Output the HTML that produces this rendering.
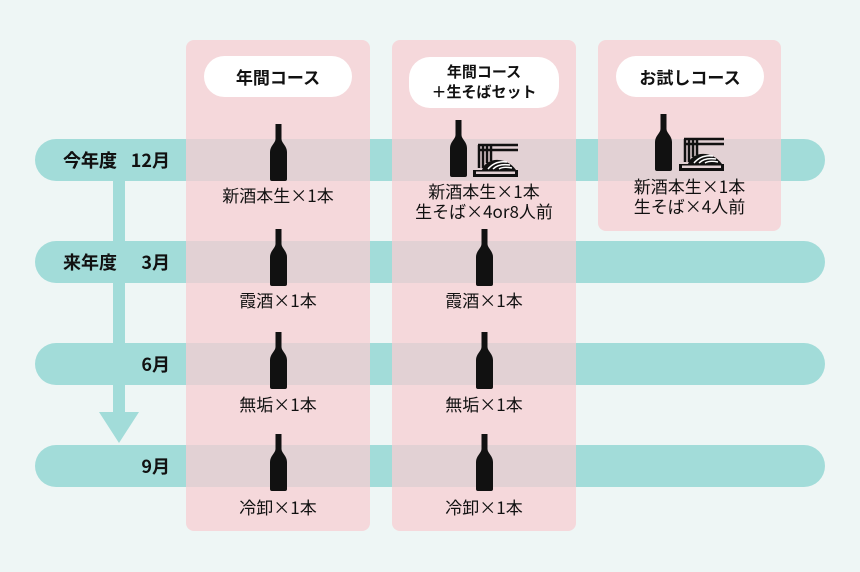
<!DOCTYPE html>
<html><head><meta charset="utf-8"><style>
body{margin:0;width:860px;height:572px;background:#eef6f5;position:relative;overflow:hidden;font-family:"Noto Sans CJK JP","Liberation Sans",sans-serif;color:#111}
.band{position:absolute;left:35px;width:790px;height:42px;border-radius:21px;background:#a2dcd9}
.bl{position:absolute;font-size:18px;font-weight:bold;line-height:42px;white-space:pre}
.panel{position:absolute;background:rgba(247,206,210,0.75);border-radius:8px}
.pill{position:absolute;background:#fff;border-radius:21px;text-align:center;font-weight:bold;font-size:17px}
.t{position:absolute;width:184px;text-align:center;font-size:17px;line-height:20px}
svg.i{position:absolute}
</style></head><body>
<svg width="0" height="0" style="position:absolute"><defs>
<symbol id="b" viewBox="0 0 17 57"><path d="M5.5 0H11.5V15C11.5 19 17 22 17 28V55Q17 57 15 57H2Q0 57 0 55V28C0 22 5.5 19 5.5 15Z" fill="#111"/></symbol>
<symbol id="n" viewBox="0 0 47 34"><g fill="none" stroke="#111" stroke-width="2.5"><path d="M6 2H46M6 7H46"/><path d="M7 2V25M11 2V25M15 2V20M19 2V18"/></g><path d="M10 27C14 14 34 13 44 27Z" fill="#111"/><g stroke="#fff" stroke-width="1.5" fill="none"><path d="M16 26C21 20 28 18 35 19M21 26C25 22 31 21 38 22M27 26C30 24 35 24 40 25"/></g><path d="M1 27H46V34H1Z M4 28.5V31H43V28.5Z" fill="#111" fill-rule="evenodd"/></symbol>
</defs></svg>
<div class="band" style="top:139px"></div>
<div class="band" style="top:241px"></div>
<div class="band" style="top:343px"></div>
<div class="band" style="top:445px"></div>
<div style="position:absolute;left:113px;top:181px;width:12px;height:234px;background:#a2dcd9"></div>
<svg class="i" style="left:99px;top:412px" width="40" height="32"><path d="M0 0H40L20 31Z" fill="#a2dcd9"/></svg>
<div class="bl" style="left:63px;top:139px">今年度 <span style="position:absolute;right:-170px;left:auto"></span></div>
<div class="bl" style="left:63px;top:139px">今年度</div>
<div class="bl" style="left:63px;top:241px">来年度</div>
<div class="bl" style="right:690px;top:139px">12月</div>
<div class="bl" style="right:690px;top:241px">3月</div>
<div class="bl" style="right:690px;top:343px">6月</div>
<div class="bl" style="right:690px;top:445px">9月</div>
<div class="panel" style="left:186px;top:40px;width:184px;height:491px"></div>
<div class="panel" style="left:392px;top:40px;width:184px;height:491px"></div>
<div class="panel" style="left:598px;top:40px;width:183px;height:191px"></div>
<div class="pill" style="left:204px;top:56px;width:148px;height:41px;line-height:41px">年間コース</div>
<div class="pill" style="left:409px;top:57px;width:150px;height:51px;font-size:15px;line-height:20px;padding-top:5px;box-sizing:border-box">年間コース<br>＋生そばセット</div>
<div class="pill" style="left:616px;top:56px;width:148px;height:41px;line-height:41px">お試しコース</div>
<svg class="i" style="left:270px;top:124px" width="17" height="57"><use href="#b"/></svg>
<div class="t" style="left:186px;top:185px">新酒本生×1本</div>
<svg class="i" style="left:270px;top:229px" width="17" height="57"><use href="#b"/></svg>
<div class="t" style="left:186px;top:290px">霞酒×1本</div>
<svg class="i" style="left:270px;top:332px" width="17" height="57"><use href="#b"/></svg>
<div class="t" style="left:186px;top:394px">無垢×1本</div>
<svg class="i" style="left:270px;top:434px" width="17" height="57"><use href="#b"/></svg>
<div class="t" style="left:186px;top:497px">冷卸×1本</div>
<svg class="i" style="left:450px;top:120px" width="17" height="57"><use href="#b"/></svg>
<svg class="i" style="left:472px;top:143px" width="47" height="34"><use href="#n"/></svg>
<div class="t" style="left:392px;top:181px">新酒本生×1本<br>生そば×4or8人前</div>
<svg class="i" style="left:476px;top:229px" width="17" height="57"><use href="#b"/></svg>
<div class="t" style="left:392px;top:290px">霞酒×1本</div>
<svg class="i" style="left:476px;top:332px" width="17" height="57"><use href="#b"/></svg>
<div class="t" style="left:392px;top:394px">無垢×1本</div>
<svg class="i" style="left:476px;top:434px" width="17" height="57"><use href="#b"/></svg>
<div class="t" style="left:392px;top:497px">冷卸×1本</div>
<svg class="i" style="left:655px;top:114px" width="17" height="57"><use href="#b"/></svg>
<svg class="i" style="left:678px;top:137px" width="47" height="34"><use href="#n"/></svg>
<div class="t" style="left:598px;top:176px;width:183px">新酒本生×1本<br>生そば×4人前</div>
</body></html>
